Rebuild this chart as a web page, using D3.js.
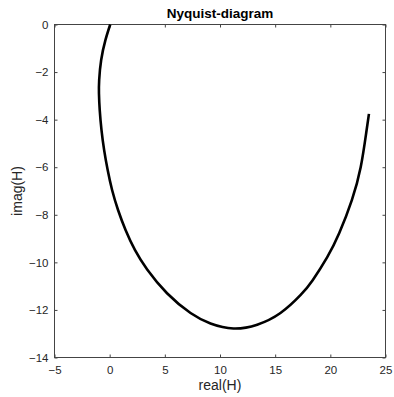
<!DOCTYPE html>
<html><head><meta charset="utf-8">
<script src="https://cdn.jsdelivr.net/npm/d3@7"></script>
<style>body{margin:0;background:#fff}svg{display:block}</style>
</head><body>
<script>
const realH = [0.05,-0.38,-0.77,-0.95,-0.97,-0.90,-0.74,-0.50,-0.18,0.22,0.76,1.45,2.30,3.40,5.20,7.33,9.14,11.22,13.37,15.48,17.29,18.40,19.72,20.81,21.95,22.75,23.25,23.50];
const imagH = [0,-0.65,-1.49,-2.33,-2.90,-3.60,-4.44,-5.28,-6.12,-6.96,-7.80,-8.65,-9.49,-10.30,-11.30,-12.13,-12.57,-12.78,-12.62,-12.13,-11.38,-10.75,-9.78,-8.77,-7.38,-6.00,-4.56,-3.76];
const xTicks = [-5,0,5,10,15,20,25];
const yTicks = [0,-2,-4,-6,-8,-10,-12,-14];

const W=394,H=397;
const svg=d3.select("body").append("svg").attr("width",W).attr("height",H);
const x=d3.scaleLinear().domain([-5,25]).range([54.5,385.5]);
const y=d3.scaleLinear().domain([-14,0]).range([357.5,24.5]);
const axisCol="#444";
const font="Liberation Sans, Arial, Helvetica, sans-serif";

svg.append("rect").attr("x",x(-5)).attr("y",y(0)).attr("width",x(25)-x(-5)).attr("height",y(-14)-y(0))
 .attr("fill","none").attr("stroke",axisCol).attr("stroke-width",1);

const xa=svg.append("g").attr("transform",`translate(0,${y(-14)})`)
 .call(d3.axisBottom(x).tickValues(xTicks).tickSize(-3).tickPadding(8).tickFormat(d3.format("d")));
const xt=svg.append("g").attr("transform",`translate(0,${y(0)})`)
 .call(d3.axisTop(x).tickValues(xTicks).tickSize(-3).tickFormat(""));
const ya=svg.append("g").attr("transform",`translate(${x(-5)},0)`)
 .call(d3.axisLeft(y).tickValues(yTicks).tickSize(-3).tickPadding(6).tickFormat(d3.format("d")));
const yr=svg.append("g").attr("transform",`translate(${x(25)},0)`)
 .call(d3.axisRight(y).tickValues(yTicks).tickSize(-3).tickFormat(""));
[xa,xt,ya,yr].forEach(a=>{
  a.select(".domain").remove();
  a.selectAll("line").attr("stroke",axisCol);
  a.selectAll("text").attr("fill","#262626").style("font-family",font).style("font-size","11.5px");
});

const pts=realH.map((r,i)=>[r,imagH[i]]);
svg.append("path").datum(pts)
 .attr("d",d3.line().x(d=>x(d[0])).y(d=>y(d[1])).curve(d3.curveNatural))
 .attr("fill","none").attr("stroke","#000").attr("stroke-width",2.6);

svg.append("text").attr("x",(x(-5)+x(25))/2).attr("y",18).attr("text-anchor","middle")
 .style("font-family",font).style("font-weight","bold").style("font-size","13.5px").attr("fill","#000").text("Nyquist-diagram");
svg.append("text").attr("x",(x(-5)+x(25))/2).attr("y",390).attr("text-anchor","middle")
 .style("font-family",font).style("font-size","14px").attr("fill","#262626").text("real(H)");
svg.append("text").attr("transform",`translate(22,${(y(0)+y(-14))/2}) rotate(-90)`).attr("text-anchor","middle")
 .style("font-family",font).style("font-size","14px").attr("fill","#262626").text("imag(H)");
</script>
</body></html>
